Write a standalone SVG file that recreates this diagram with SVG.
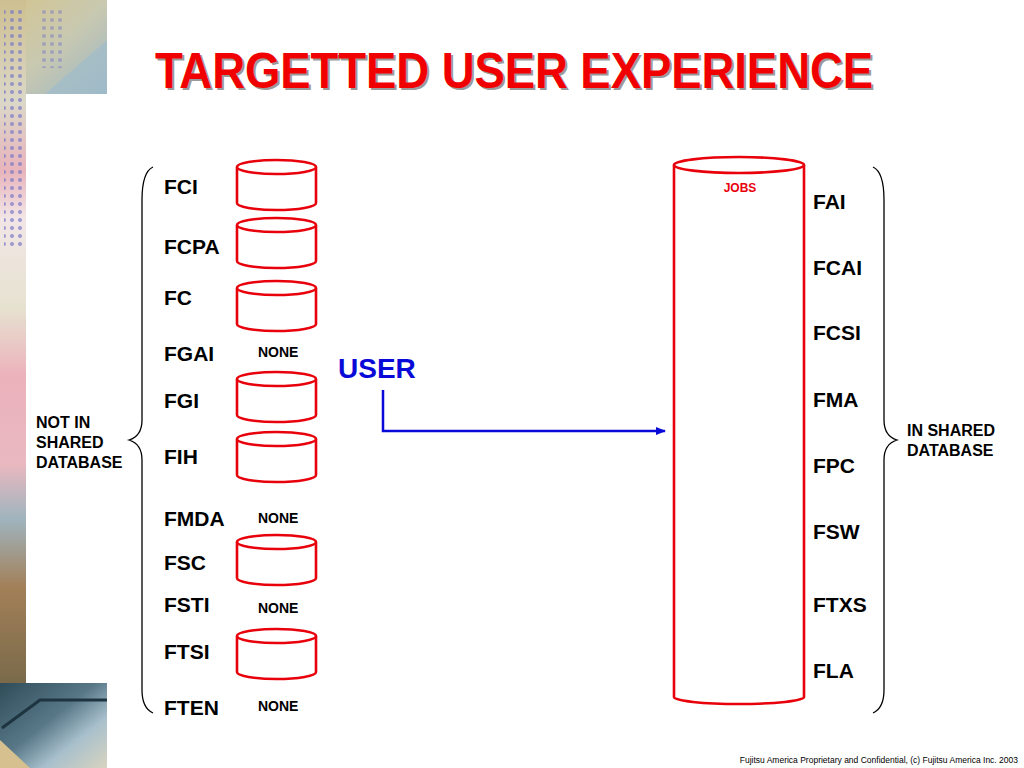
<svg xmlns="http://www.w3.org/2000/svg" width="1024" height="768" viewBox="0 0 1024 768">
<defs>
<style>
.lbl{font-family:"Liberation Sans",Arial,sans-serif;font-weight:bold;font-size:21px;fill:#000}
.none{font-family:"Liberation Sans",Arial,sans-serif;font-weight:bold;font-size:14px;fill:#000}
.side{font-family:"Liberation Sans",Arial,sans-serif;font-weight:bold;font-size:16px;fill:#000}
.cyl{fill:#fff;stroke:#e8000b;stroke-width:2.6}
.brace{fill:none;stroke:#000;stroke-width:1.3}
</style>
<g id="cylshape">
<path class="cyl" d="M0,7 V43 A39.5,7 0 0 0 79,43 V7"/>
<ellipse class="cyl" cx="39.5" cy="7" rx="39.5" ry="7"/>
</g>
<marker id="arr" markerWidth="10" markerHeight="8" refX="9" refY="4" orient="auto" markerUnits="userSpaceOnUse">
<path d="M0,0 L10,4 L0,8 Z" fill="#0a0ad8"/>
</marker>
<pattern id="dots" width="8" height="8" patternUnits="userSpaceOnUse">
<circle cx="4" cy="4" r="2" fill="#7a78c8" opacity="0.7"/>
</pattern>
<linearGradient id="tl" x1="0" y1="0" x2="1" y2="1">
<stop offset="0" stop-color="#d4c48e"/>
<stop offset="0.5" stop-color="#c9c9b0"/>
<stop offset="1" stop-color="#9db6c4"/>
</linearGradient>
<linearGradient id="strip" x1="0" y1="0" x2="0" y2="1">
<stop offset="0" stop-color="#cdbf90"/>
<stop offset="0.15" stop-color="#dcd8c8"/>
<stop offset="0.25" stop-color="#e8b4bc"/>
<stop offset="0.32" stop-color="#f2e6e6"/>
<stop offset="0.45" stop-color="#e6e2d0"/>
<stop offset="0.55" stop-color="#ecb2bc"/>
<stop offset="0.68" stop-color="#e9b8c0"/>
<stop offset="0.76" stop-color="#9fb4be"/>
<stop offset="0.86" stop-color="#a28058"/>
<stop offset="1" stop-color="#7a6a4a"/>
</linearGradient>
<linearGradient id="bl" x1="0" y1="0" x2="1" y2="1">
<stop offset="0" stop-color="#2f4c58"/>
<stop offset="0.45" stop-color="#587888"/>
<stop offset="0.7" stop-color="#a8c0cc"/>
<stop offset="1" stop-color="#d8d4c0"/>
</linearGradient>
</defs>
<rect width="1024" height="768" fill="#fff"/>
<g id="decoration">
<rect x="0" y="0" width="107" height="94" fill="url(#tl)"/>
<rect x="0" y="0" width="26" height="683" fill="url(#strip)"/>
<rect x="4" y="8" width="22" height="240" fill="url(#dots)"/>
<rect x="40" y="8" width="24" height="60" fill="url(#dots)" opacity="0.7"/>
<path d="M45,94 L107,40 L107,94 Z" fill="#9fbccb" opacity="0.7"/>
<rect x="0" y="683" width="107" height="85" fill="url(#bl)"/>
<path d="M0,740 L30,768 L0,768 Z" fill="#d6c090"/>
<path d="M2,728 L40,700 L107,700" fill="none" stroke="#1e3440" stroke-width="3"/>
</g>
<g id="title">
<text x="157" y="90" font-family="Liberation Sans,Arial,sans-serif" font-weight="bold" font-size="50" fill="#9a9a9a" textLength="718" lengthAdjust="spacingAndGlyphs">TARGETTED USER EXPERIENCE</text>
<text x="155" y="88" font-family="Liberation Sans,Arial,sans-serif" font-weight="bold" font-size="50" fill="#f00000" textLength="718" lengthAdjust="spacingAndGlyphs">TARGETTED USER EXPERIENCE</text>
</g>
<g id="left-brace">
<path class="brace" d="M153,167 Q142,172 142,200 L142,420 Q142,436 129,440 Q142,444 142,460 L142,690 Q142,708 153,713"/>
<text class="side" x="36" y="428">NOT IN</text>
<text class="side" x="36" y="448">SHARED</text>
<text class="side" x="36" y="468">DATABASE</text>
</g>
<g id="right-brace">
<path class="brace" d="M873,167 Q884,172 884,200 L884,420 Q884,436 897,440 Q884,444 884,460 L884,690 Q884,708 873,713"/>
<text class="side" x="907" y="436">IN SHARED</text>
<text class="side" x="907" y="456">DATABASE</text>
</g>
<g id="FCI"><text class="lbl" x="164" y="194">FCI</text><use href="#cylshape" x="237" y="160"/></g>
<g id="FCPA"><text class="lbl" x="164" y="254">FCPA</text><use href="#cylshape" x="237" y="218"/></g>
<g id="FC"><text class="lbl" x="164" y="305">FC</text><use href="#cylshape" x="237" y="281"/></g>
<g id="FGAI"><text class="lbl" x="164" y="361">FGAI</text><text class="none" x="258" y="357">NONE</text></g>
<g id="FGI"><text class="lbl" x="164" y="408">FGI</text><use href="#cylshape" x="237" y="372"/></g>
<g id="FIH"><text class="lbl" x="164" y="464">FIH</text><use href="#cylshape" x="237" y="432"/></g>
<g id="FMDA"><text class="lbl" x="164" y="526">FMDA</text><text class="none" x="258" y="523">NONE</text></g>
<g id="FSC"><text class="lbl" x="164" y="570">FSC</text><use href="#cylshape" x="237" y="535"/></g>
<g id="FSTI"><text class="lbl" x="164" y="612">FSTI</text><text class="none" x="258" y="613">NONE</text></g>
<g id="FTSI"><text class="lbl" x="164" y="659">FTSI</text><use href="#cylshape" x="237" y="629"/></g>
<g id="FTEN"><text class="lbl" x="164" y="715">FTEN</text><text class="none" x="258" y="711">NONE</text></g>
<g id="USER"><text x="338" y="378" font-family="Liberation Sans,Arial,sans-serif" font-weight="bold" font-size="28" fill="#0a0ad8">USER</text></g>
<g id="JOBS">
<path class="cyl" d="M674,165 V697 A65,7 0 0 0 804,697 V165"/>
<ellipse class="cyl" cx="739" cy="165" rx="65" ry="8"/>
<text x="740" y="192" text-anchor="middle" font-family="Liberation Sans,Arial,sans-serif" font-weight="bold" font-size="12" fill="#e8000b">JOBS</text>
</g>
<g id="right-labels">
<text class="lbl" x="813" y="209">FAI</text>
<text class="lbl" x="813" y="275">FCAI</text>
<text class="lbl" x="813" y="340">FCSI</text>
<text class="lbl" x="813" y="407">FMA</text>
<text class="lbl" x="813" y="473">FPC</text>
<text class="lbl" x="813" y="539">FSW</text>
<text class="lbl" x="813" y="612">FTXS</text>
<text class="lbl" x="813" y="678">FLA</text>
</g>
<g id="connectors">
<path d="M383,390 V431 H665" fill="none" stroke="#0a0ad8" stroke-width="2.5" marker-end="url(#arr)"/>
</g>
<text x="1018" y="763" text-anchor="end" font-family="Liberation Sans,Arial,sans-serif" font-size="8.5" fill="#000">Fujitsu America Proprietary and Confidential, (c) Fujitsu America Inc. 2003</text>
</svg>
